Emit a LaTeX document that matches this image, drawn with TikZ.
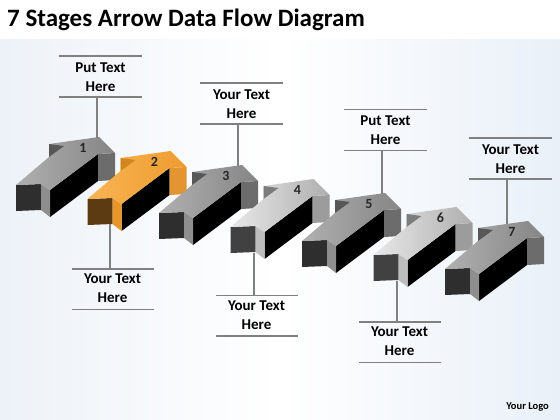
\documentclass[tikz,border=0pt]{standalone}
\usepackage{fontspec}
\setmainfont{Carlito}
\definecolor{bgL}{HTML}{EDF2F8}
\definecolor{bgR}{HTML}{E9F0F8}
\definecolor{lineC}{HTML}{808080}
\definecolor{dA1}{HTML}{B0B0B0}
\definecolor{dA2}{HTML}{858585}
\definecolor{dAtri}{HTML}{575757}
\definecolor{dAright}{HTML}{6C6C6C}
\definecolor{dArear}{HTML}{2E2E2E}
\definecolor{dAstrip}{HTML}{8E8E8E}
\definecolor{lB1}{HTML}{E8E8E8}
\definecolor{lB2}{HTML}{AFAFAF}
\definecolor{lBtri}{HTML}{7C7C7C}
\definecolor{lBright}{HTML}{9C9C9C}
\definecolor{lBrear}{HTML}{414141}
\definecolor{lBstrip}{HTML}{BDBDBD}
\definecolor{oC1}{HTML}{F8B452}
\definecolor{oC2}{HTML}{EE9C30}
\definecolor{oCtri}{HTML}{D3861F}
\definecolor{oCright}{HTML}{E39532}
\definecolor{oCrear}{HTML}{5C3A12}
\definecolor{oCstrip}{HTML}{E8962A}
\tikzset{
  conn/.style={draw=lineC, line width=1.1pt},
  calltext/.style={font=\bfseries\fontsize{15}{19}\selectfont, align=center, text=black, inner sep=0pt},
  numlbl/.style={font=\bfseries\fontsize{14}{14}\selectfont, text=black!85, inner sep=0pt},
}
\newcommand\stagearrow[9]{%
  \begin{scope}[shift={(#1,#2)}]
    \fill[black] (50,190) -- (98,154) -- (98,181) -- (50,217) -- cycle;
    \fill[#6] (98,154) -- (115,153) -- (115,180) -- (98,181) -- cycle;
    \fill[#7] (16,185) -- (41,184) -- (41,210) -- (16,211) -- cycle;
    \fill[#8] (41,184) -- (50,190) -- (50,217) -- (41,210) -- cycle;
    \shade[left color=#3, right color=#4] (16,185) -- (41,184) -- (50,190) -- (98,154) -- (115,153) -- (99,137) -- (49,144) -- (49,157) -- cycle;
    \fill[#5] (49,144) -- (64,146) -- (49,157) -- cycle;
    \node[numlbl] (n#9) at (83,148) {#9};
  \end{scope}}
% top callout: #1 name, #2 vertical x, #3 top line y, #4 arrow connection y, #5 line1
\newcommand\topcallout[5]{%
  \coordinate (#1l1) at (#2-38.5,#3);
  \coordinate (#1r1) at (#2+45,#3);
  \coordinate (#1l2) at (#2-38.5,#3+41);
  \coordinate (#1r2) at (#2+45,#3+41);
  \coordinate (#1v) at (#2,#3+41);
  \coordinate (#1a) at (#2,#4);
  \draw[conn] (#1l1) -- (#1r1);
  \draw[conn] (#1l2) -- (#1r2);
  \node[calltext, anchor=center] (#1t) at (#2+3.5,#3+21) {#5\\Here};
  \draw[conn] (#1v) -- (#1a);}
% bottom callout: #1 name, #2 vertical x, #3 top line y, #4 arrow connection y
\newcommand\botcallout[4]{%
  \coordinate (#1l1) at (#2-38,#3);
  \coordinate (#1r1) at (#2+43.5,#3);
  \coordinate (#1l2) at (#2-38,#3+40.5);
  \coordinate (#1r2) at (#2+43.5,#3+40.5);
  \coordinate (#1v) at (#2,#3);
  \coordinate (#1a) at (#2,#4);
  \draw[conn] (#1l1) -- (#1r1);
  \draw[conn] (#1l2) -- (#1r2);
  \node[calltext, anchor=center] (#1t) at (#2+2.5,#3+19.5) {Your Text\\Here};
  \draw[conn] (#1a) -- (#1v);}
\begin{document}
\begin{tikzpicture}[x=1pt,y=-1pt]
  \useasboundingbox (0,0) rectangle (560,420);
  \fill[white] (0,0) rectangle (560,420);
  \shade[left color=bgL, right color=bgR, middle color=white] (0,40) rectangle (560,420);
  \node[anchor=base west, inner sep=0pt, font=\bfseries\fontsize{25}{25}\selectfont] (title) at (7,27) {7 Stages Arrow Data Flow Diagram};
  \stagearrow{0}{0}{dA1}{dA2}{dAtri}{dAright}{dArear}{dAstrip}{1}
  \stagearrow{71.5}{14}{oC1}{oC2}{oCtri}{oCright}{oCrear}{oCstrip}{2}
  \stagearrow{143}{28}{dA1}{dA2}{dAtri}{dAright}{dArear}{dAstrip}{3}
  \stagearrow{214.5}{42}{lB1}{lB2}{lBtri}{lBright}{lBrear}{lBstrip}{4}
  \stagearrow{286}{56}{dA1}{dA2}{dAtri}{dAright}{dArear}{dAstrip}{5}
  \stagearrow{357.5}{70}{lB1}{lB2}{lBtri}{lBright}{lBrear}{lBstrip}{6}
  \stagearrow{429}{84}{dA1}{dA2}{dAtri}{dAright}{dArear}{dAstrip}{7}
  \topcallout{ca}{97}{56}{137.5}{Put Text}
  \topcallout{cc}{238}{83}{165.5}{Your Text}
  \topcallout{ce}{382}{109.5}{193.5}{Put Text}
  \topcallout{cg}{507}{138}{224}{Your Text}
  \botcallout{cb}{110}{269}{224}
  \botcallout{cd}{254}{295.5}{252.5}
  \botcallout{cf}{397}{322}{281}
  \node[anchor=base east, inner sep=0pt, font=\bfseries\fontsize{10.5}{10.5}\selectfont] (logo) at (549,409) {Your Logo};
\end{tikzpicture}
\end{document}
